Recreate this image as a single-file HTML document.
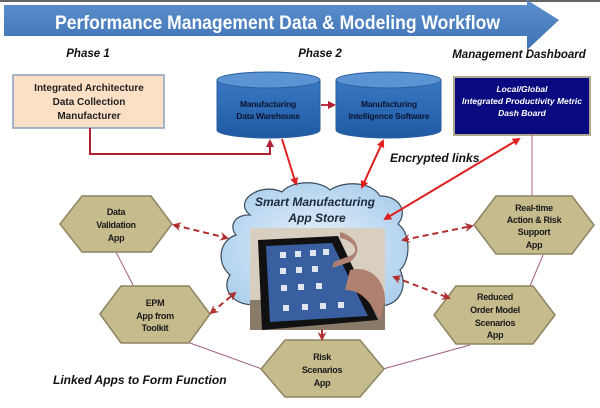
<!DOCTYPE html>
<html><head><meta charset="utf-8"><style>
html,body{margin:0;padding:0;background:#fff;}
svg{display:block;font-family:"Liberation Sans",Arial,sans-serif;}
</style></head><body>
<svg width="600" height="408" viewBox="0 0 600 408" xmlns="http://www.w3.org/2000/svg">
<defs>
<linearGradient id="ar" x1="0" y1="0" x2="0" y2="1"><stop offset="0" stop-color="#5b8fcc"/><stop offset="1" stop-color="#3e72b5"/></linearGradient>
<linearGradient id="cy" x1="0" y1="0" x2="0" y2="1"><stop offset="0" stop-color="#3a78c4"/><stop offset="1" stop-color="#1f5aa3"/></linearGradient>
<radialGradient id="cl" cx="0.5" cy="0.5" r="0.6"><stop offset="0" stop-color="#eaf3fb"/><stop offset="1" stop-color="#a9cdec"/></radialGradient>
<marker id="ah" markerWidth="8" markerHeight="8" refX="6" refY="4" orient="auto" markerUnits="userSpaceOnUse"><path d="M0,0 L8,4 L0,8 z" fill="#e02020"/></marker>
<marker id="as" markerWidth="8" markerHeight="8" refX="2" refY="4" orient="auto" markerUnits="userSpaceOnUse"><path d="M8,0 L0,4 L8,8 z" fill="#e02020"/></marker>
<marker id="dh" markerWidth="9" markerHeight="9" refX="7" refY="4.5" orient="auto" markerUnits="userSpaceOnUse"><path d="M0,0 L9,4.5 L0,9 L3,4.5 z" fill="#b03030"/></marker>
<marker id="ds" markerWidth="9" markerHeight="9" refX="2" refY="4.5" orient="auto" markerUnits="userSpaceOnUse"><path d="M9,0 L0,4.5 L9,9 L6,4.5 z" fill="#b03030"/></marker>
<marker id="bh" markerWidth="8" markerHeight="8" refX="6" refY="4" orient="auto" markerUnits="userSpaceOnUse"><path d="M0,0 L8,4 L0,8 z" fill="#b02030"/></marker>
</defs>
<rect x="0" y="0" width="600" height="2" fill="#666"/>
<path d="M4,5 L527,5 L527,0 L559,20 L527,50 L527,36 L4,36 z" fill="url(#ar)"/>
<text x="55" y="29" textLength="445" lengthAdjust="spacingAndGlyphs" font-size="19" font-weight="bold" fill="#fff">Performance Management Data &amp; Modeling  Workflow</text>
<g font-size="11.5" font-weight="bold" font-style="italic" fill="#111">
<text x="88" y="57" text-anchor="middle">Phase 1</text>
<text x="320" y="57" text-anchor="middle">Phase 2</text>
<text x="519" y="58" text-anchor="middle">Management Dashboard</text>
</g>
<rect x="13" y="75" width="151" height="53" fill="#fbe0c6" stroke="#8aa0c0" stroke-width="1.5"/>
<g font-size="10" font-weight="bold" fill="#222" text-anchor="middle">
<text x="89" y="91">Integrated Architecture</text>
<text x="89" y="105">Data Collection</text>
<text x="89" y="119">Manufacturer</text>
</g>
<g stroke="#2a5f9e" stroke-width="1">
<path d="M217,80 L217,130 A51.5,8 0 0 0 320,130 L320,80" fill="url(#cy)"/>
<ellipse cx="268.5" cy="80" rx="51.5" ry="8" fill="#5c93d3"/>
<path d="M336,80 L336,130 A52.5,8 0 0 0 441,130 L441,80" fill="url(#cy)"/>
<ellipse cx="388.5" cy="80" rx="52.5" ry="8" fill="#5c93d3"/>
</g>
<g font-size="8.5" font-weight="bold" fill="#081530" text-anchor="middle" letter-spacing="-0.2">
<text x="268" y="107">Manufacturing</text><text x="268" y="119">Data Warehouse</text>
<text x="389" y="107">Manufacturing</text><text x="389" y="119">Intelligence Software</text>
</g>
<line x1="321" y1="105" x2="334" y2="105" stroke="#c03040" stroke-width="2" marker-end="url(#bh)"/>
<rect x="454" y="77" width="136" height="58" fill="#0a0a80" stroke="#b0a890" stroke-width="2"/>
<g font-size="8.5" font-weight="bold" font-style="italic" fill="#fff" text-anchor="middle">
<text x="522" y="92">Local/Global</text>
<text x="522" y="104">Integrated Productivity Metric</text>
<text x="522" y="116">Dash Board</text>
</g>
<path d="M90,128 L90,154 L270,154 L270,141" fill="none" stroke="#b02030" stroke-width="2" marker-end="url(#bh)"/>
<line x1="532" y1="135" x2="532" y2="196" stroke="#a06080" stroke-width="1"/>
<path d="M250,215 C232,200 262,182 282,192 C292,180 320,180 330,190 C345,180 372,182 380,196 C400,196 408,212 398,224 C412,234 410,262 400,270 C410,290 395,310 375,305 C365,318 330,315 320,308 C300,318 265,318 258,304 C235,308 220,290 230,275 C215,262 220,240 236,235 C228,225 236,214 250,215 z" fill="url(#cl)" stroke="#3a4a5a" stroke-width="1.2"/>
<g font-size="12" font-weight="bold" font-style="italic" fill="#1a2a3a" text-anchor="middle">
<text x="315" y="206">Smart Manufacturing</text>
<text x="317" y="222">App Store</text>
</g>
<rect x="250" y="228" width="135" height="102" fill="#d8cfc0"/>
<rect x="250" y="300" width="135" height="30" fill="#8a7a6a"/>
<path d="M258,240 L338,236 L378,320 L262,330 z" fill="#111"/>
<path d="M266,246 L332,243 L368,316 L270,322 z" fill="#3a5fa0"/>
<g fill="#dfe6f0">
<rect x="280" y="252" width="6" height="6"/><rect x="295" y="251" width="6" height="6"/><rect x="310" y="250" width="6" height="6"/><rect x="323" y="249" width="6" height="6"/>
<rect x="280" y="268" width="6" height="6"/><rect x="296" y="267" width="6" height="6"/><rect x="312" y="266" width="6" height="6"/>
<rect x="281" y="285" width="6" height="6"/><rect x="298" y="284" width="6" height="6"/><rect x="316" y="283" width="6" height="6"/>
<rect x="283" y="305" width="6" height="6"/><rect x="302" y="304" width="6" height="6"/><rect x="320" y="303" width="6" height="6"/><rect x="338" y="302" width="6" height="6"/>
</g>
<path d="M340,232 C355,236 365,250 350,262 L332,268 L334,262 L352,255 C360,250 352,240 340,238 z M350,270 C370,265 385,280 385,300 L380,320 C370,300 360,290 345,290 z" fill="#b08070"/>
<line x1="282" y1="139" x2="296" y2="184" stroke="#e02020" stroke-width="2" marker-end="url(#ah)"/>
<line x1="383" y1="141" x2="362" y2="187" stroke="#e02020" stroke-width="2" marker-start="url(#as)" marker-end="url(#ah)"/>
<line x1="519" y1="139" x2="385" y2="219" stroke="#e02020" stroke-width="2" marker-start="url(#as)" marker-end="url(#ah)"/>
<text x="390" y="162" font-size="12" font-weight="bold" font-style="italic" fill="#111">Encrypted links</text>
<g stroke="#a06080" stroke-width="1" fill="none">
<line x1="116" y1="252" x2="133" y2="285"/>
<line x1="190" y1="343" x2="262" y2="369"/>
<line x1="383" y1="369" x2="470" y2="345"/>
<line x1="530" y1="286" x2="543" y2="255"/>
</g>
<g fill="#c5bb8c" stroke="#8e8462" stroke-width="1.5">
<polygon points="60,224 82,196 151,196 172,224 151,252 82,252"/>
<polygon points="100,314 121,286 189,286 210,314 189,343 121,343"/>
<polygon points="261,369 285,340 360,340 384,369 360,397 285,397"/>
<polygon points="474,225 496,196 572,196 594,225 572,254 496,254"/>
<polygon points="434,315 456,286 533,286 555,315 533,344 456,344"/>
</g>
<g font-size="9" font-weight="bold" fill="#1a1a1a" text-anchor="middle" letter-spacing="-0.3">
<text x="116" y="215">Data</text><text x="116" y="228">Validation</text><text x="116" y="241">App</text>
<text x="155" y="306">EPM</text><text x="155" y="319">App from</text><text x="155" y="331">Toolkit</text>
<text x="322" y="360">Risk</text><text x="322" y="373">Scenarios</text><text x="322" y="386">App</text>
<text x="534" y="211">Real-time</text><text x="534" y="223">Action &amp; Risk</text><text x="534" y="235">Support</text><text x="534" y="248">App</text>
<text x="495" y="300">Reduced</text><text x="495" y="313">Order Model</text><text x="495" y="326">Scenarios</text><text x="495" y="338">App</text>
</g>
<g stroke="#b03030" stroke-width="2" stroke-dasharray="6,4" fill="none">
<line x1="174" y1="225" x2="227" y2="238" marker-start="url(#ds)" marker-end="url(#dh)"/>
<line x1="211" y1="313" x2="235" y2="293" marker-start="url(#ds)" marker-end="url(#dh)"/>
<line x1="403" y1="240" x2="472" y2="226" marker-start="url(#ds)" marker-end="url(#dh)"/>
<line x1="394" y1="277" x2="449" y2="298" marker-start="url(#ds)" marker-end="url(#dh)"/>
</g>
<line x1="322" y1="330" x2="322" y2="339" stroke="#b03030" stroke-width="2" marker-end="url(#dh)"/>
<text x="53" y="384" font-size="12" font-weight="bold" font-style="italic" fill="#111">Linked Apps to Form Function</text>
</svg>
</body></html>
